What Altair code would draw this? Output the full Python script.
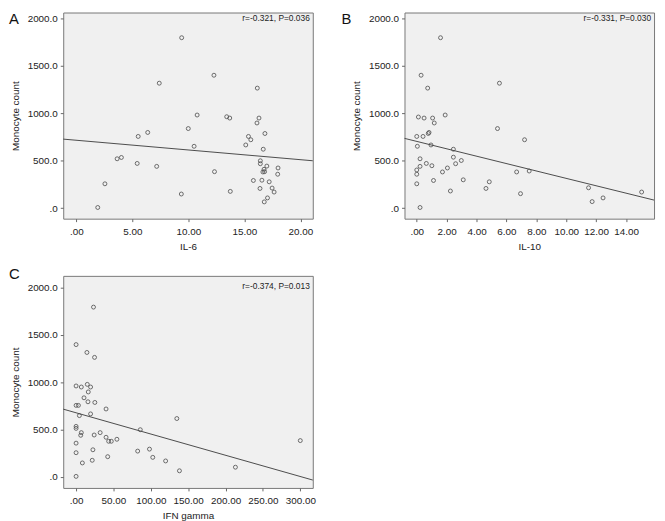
import altair as alt
import pandas as pd

letters = ["A", "B", "C"]
x_titles = ["IL-6", "IL-10", "IFN gamma"]
y_title = "Monocyte count"
stat_texts = ["r=-0.321, P=0.036", "r=-0.331, P=0.030", "r=-0.374, P=0.013"]

il6 = [9.40, 12.28, 7.40, 16.15, 10.78, 13.42, 13.69, 16.30, 16.12, 9.99,
       6.37, 5.52, 15.36, 15.57, 16.83, 15.12, 10.51, 16.68, 3.64, 4.02,
       5.43, 7.17, 16.42, 16.42, 17.00, 18.00, 16.65, 16.80, 16.75, 12.33,
       17.97, 15.80, 16.56, 17.21, 2.55, 16.39, 17.47, 13.74, 17.65, 9.37,
       17.06, 16.77, 1.91]
il6_mono = [1799, 1403, 1319, 1267, 983, 965, 951, 951, 899, 840,
            799, 757, 757, 722, 788, 667, 653, 622, 521, 535,
            472, 441, 500, 469, 444, 424, 382, 385, 410, 385,
            358, 292, 295, 278, 257, 208, 212, 177, 170, 149,
            108, 66, 7]

il10 = [1.59, 0.29, 5.53, 0.73, 1.90, 0.11, 0.49, 1.06, 1.17, 5.40,
        0.77, 0.82, 0.00, 0.42, 7.21, 0.95, 0.04, 2.45, 2.45, 0.22,
        2.98, 0.64, 2.60, 0.22, 1.01, 2.05, 0.00, 0.00, 1.72, 6.68,
        7.52, 1.12, 3.11, 4.85, 0.00, 4.63, 11.49, 2.25, 6.94, 15.04,
        12.46, 11.73, 0.22]
il10_mono = [1799, 1403, 1319, 1267, 983, 962, 951, 951, 899, 840,
             788, 799, 757, 757, 722, 667, 653, 622, 538, 521,
             503, 472, 469, 441, 448, 424, 403, 358, 382, 382,
             392, 292, 299, 278, 257, 208, 215, 181, 153, 170,
             108, 69, 7]

ifng = [23.3, 0.0, 14.5, 24.7, 0.0, 7.0, 15.0, 19.4, 16.3, 10.6,
        15.9, 25.1, 0.0, 3.1, 40.1, 19.4, 4.4, 134.8, 85.9, 0.0,
        0.0, 7.0, 6.2, 24.2, 32.2, 40.1, 43.6, 47.1, 54.6, 0.0,
        300.0, 0.0, 22.5, 82.4, 98.2, 42.3, 102.6, 21.6, 8.4, 119.8,
        213.2, 138.3, 0.0]
ifng_mono = [1795, 1399, 1316, 1264, 962, 951, 979, 951, 899, 837,
             795, 788, 757, 757, 719, 667, 649, 618, 500, 535,
             514, 469, 441, 444, 469, 420, 378, 378, 399, 358,
             385, 257, 288, 274, 295, 215, 208, 177, 149, 170,
             104, 66, 7]

x_domains = [[-1.17, 21.1], [-0.82, 15.87], [-17.2, 316.7]]
x_ticks = [[0, 5, 10, 15, 20], [0, 2, 4, 6, 8, 10, 12, 14],
           [0, 50, 100, 150, 200, 250, 300]]
y_ticks = [0, 500, 1000, 1500, 2000]
y_domains = [[-111, 2065], [-111, 2065], [-115, 2125]]

FONT = "Liberation Sans"
INK = "#222222"
MARK = "#4a4a4a"


def panel(i, xs, ys, w, h, label_pad, title_pad, letter_x, letter_y, stat_y):
    df = pd.DataFrame({"x": xs, "y": ys})
    xenc = alt.X(
        "x:Q",
        scale=alt.Scale(domain=x_domains[i], nice=False, zero=False),
        axis=alt.Axis(
            values=x_ticks[i],
            labelExpr="datum.value == 0 ? '.00' : format(datum.value, '.2f')",
            title=x_titles[i], labelPadding=label_pad, titlePadding=title_pad,
        ),
    )
    yenc = alt.Y(
        "y:Q",
        scale=alt.Scale(domain=y_domains[i], nice=False, zero=False),
        axis=alt.Axis(
            values=y_ticks,
            labelExpr="datum.value == 0 ? '.0' : format(datum.value, '.1f')",
            title=y_title, labelPadding=3, titlePadding=7,
        ),
    )
    base = alt.Chart(df)
    pts = base.mark_point(shape="circle", filled=False, size=16,
                          strokeWidth=0.8, color=MARK, opacity=1).encode(x=xenc, y=yenc)
    line = base.transform_regression("x", "y", extent=x_domains[i]).mark_line(
        color=MARK, strokeWidth=1).encode(x=xenc, y=yenc)
    letter = alt.Chart(pd.DataFrame({"t": [letters[i]]})).mark_text(
        align="left", baseline="top", fontSize=15, font=FONT, color="#111111"
    ).encode(text="t:N", x=alt.value(letter_x), y=alt.value(letter_y))
    stat = alt.Chart(pd.DataFrame({"t": [stat_texts[i]]})).mark_text(
        align="right", baseline="alphabetic", fontSize=8.5, font=FONT, color=INK
    ).encode(text="t:N", x=alt.value(w - 3), y=alt.value(stat_y))
    return alt.layer(pts, line, letter, stat).properties(width=w, height=h)


pA = panel(0, il6, il6_mono, 253, 209, 5, 5, -55, 0, 9)
pB = panel(1, il10, il10_mono, 253, 209, 5, 5, -64, 0, 9)
pC = panel(2, ifng, ifng_mono, 253, 215, 5, 5, -55, -9, 13.7)

chart = alt.concat(
    pA, pB, pC, columns=2,
    spacing={"row": 58, "column": 93},
    bounds="flush", align="each",
).properties(
    padding={"left": 0, "top": 0, "right": 0, "bottom": 0},
    background="white",
).configure_view(
    fill="#f0f0f0", stroke="#777777", strokeWidth=1
).configure_axis(
    grid=False, domain=False, tickSize=3, tickColor="#666666", tickWidth=1,
    labelFont=FONT, labelFontSize=10, labelColor=INK,
    titleFont=FONT, titleFontSize=10, titleFontWeight="normal", titleColor=INK,
)

chart.save("out.html", embed_options={"renderer": "svg", "actions": False})
